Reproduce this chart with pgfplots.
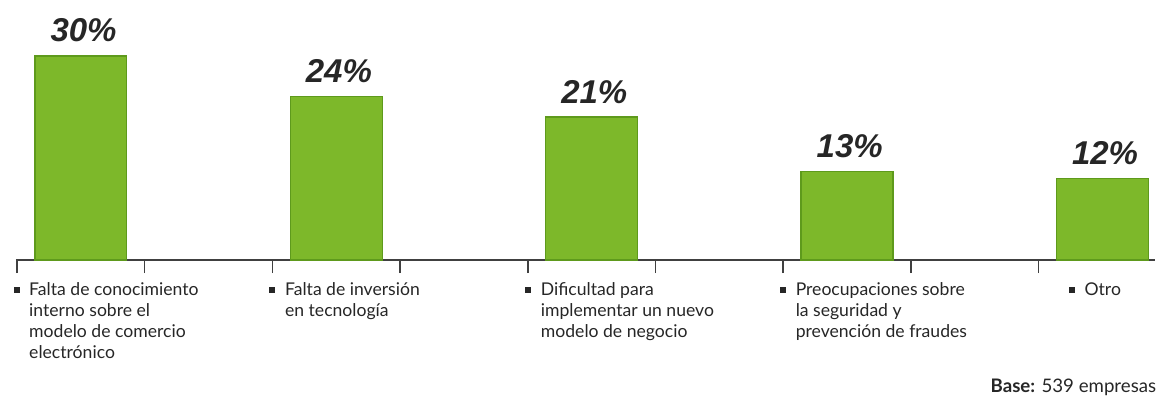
\documentclass[border=0pt]{standalone}
\usepackage{pgfplots}
\pgfplotsset{compat=1.18}
\usepackage{fontspec}
\setmainfont{Lato}
\newfontfamily\valfont{Liberation Sans}
\definecolor{barfill}{HTML}{7DB82A}
\definecolor{barline}{HTML}{5E9A1C}
\begin{document}
\begin{tikzpicture}
\begin{axis}[
  name=ax,
  scale only axis,
  width=855pt, height=195pt,
  xmin=-0.254, xmax=4.207, ymin=0, ymax=38.235,
  axis x line*=bottom, axis y line=none,
  x axis line style={line width=1.1pt, color=black!75},
  xtick={-0.25,0.25,0.75,1.25,1.75,2.25,2.75,3.25,3.75},
  xticklabels={},
  xtick align=inside,
  major tick length=10pt,
  xtick style={line width=1.1pt, color=black!75},
  ytick=\empty,
  clip=false,
  ybar, bar width=69pt,
  nodes near coords={\pgfmathprintnumber[assume math mode=true]{\pgfplotspointmeta}\%},
  every node near coord/.append style={anchor=base, yshift=10.5pt, xshift=2pt,
     font=\valfont\bfseries\itshape\fontsize{24.75pt}{28pt}\selectfont, text=black!85},
]
\addplot[fill=barfill, draw=barline, line width=1pt] coordinates {(0,30) (1,24) (2,21) (3,13) (4,12)};
\end{axis}
\useasboundingbox ([shift={(-12pt,-102pt)}]ax.south west) rectangle (ax.north east);
\def\lbl#1#2{%
  \fill[black!85] ([shift={(#1pt+0.5pt,-20.25pt)}]ax.south west) rectangle ++(4.5pt,-4.5pt);
  \foreach \t [count=\i] in {#2}
    \node[anchor=base west, inner sep=0pt, font=\fontsize{13.2pt}{15pt}\selectfont, text=black!85]
      at ([shift={(#1pt+12pt,{-27pt-(\i-1)*15.75pt})}]ax.south west) {\t};
}
\lbl{-2.25}{Falta de conocimiento, interno sobre el, modelo de comercio, electrónico}
\lbl{189.75}{Falta de inversión, en tecnología}
\lbl{381.75}{Dificultad para, implementar un nuevo, modelo de negocio}
\lbl{573}{Preocupaciones sobre, la seguridad y, prevención de fraudes}
\lbl{789.75}{Otro}
\node[anchor=base west, inner sep=0pt, font=\fontsize{14pt}{16pt}\selectfont, text=black!85]
  at ([shift={(731.25pt,-99.75pt)}]ax.south west) {\textbf{Base:} 539 empresas};
\end{tikzpicture}
\end{document}
